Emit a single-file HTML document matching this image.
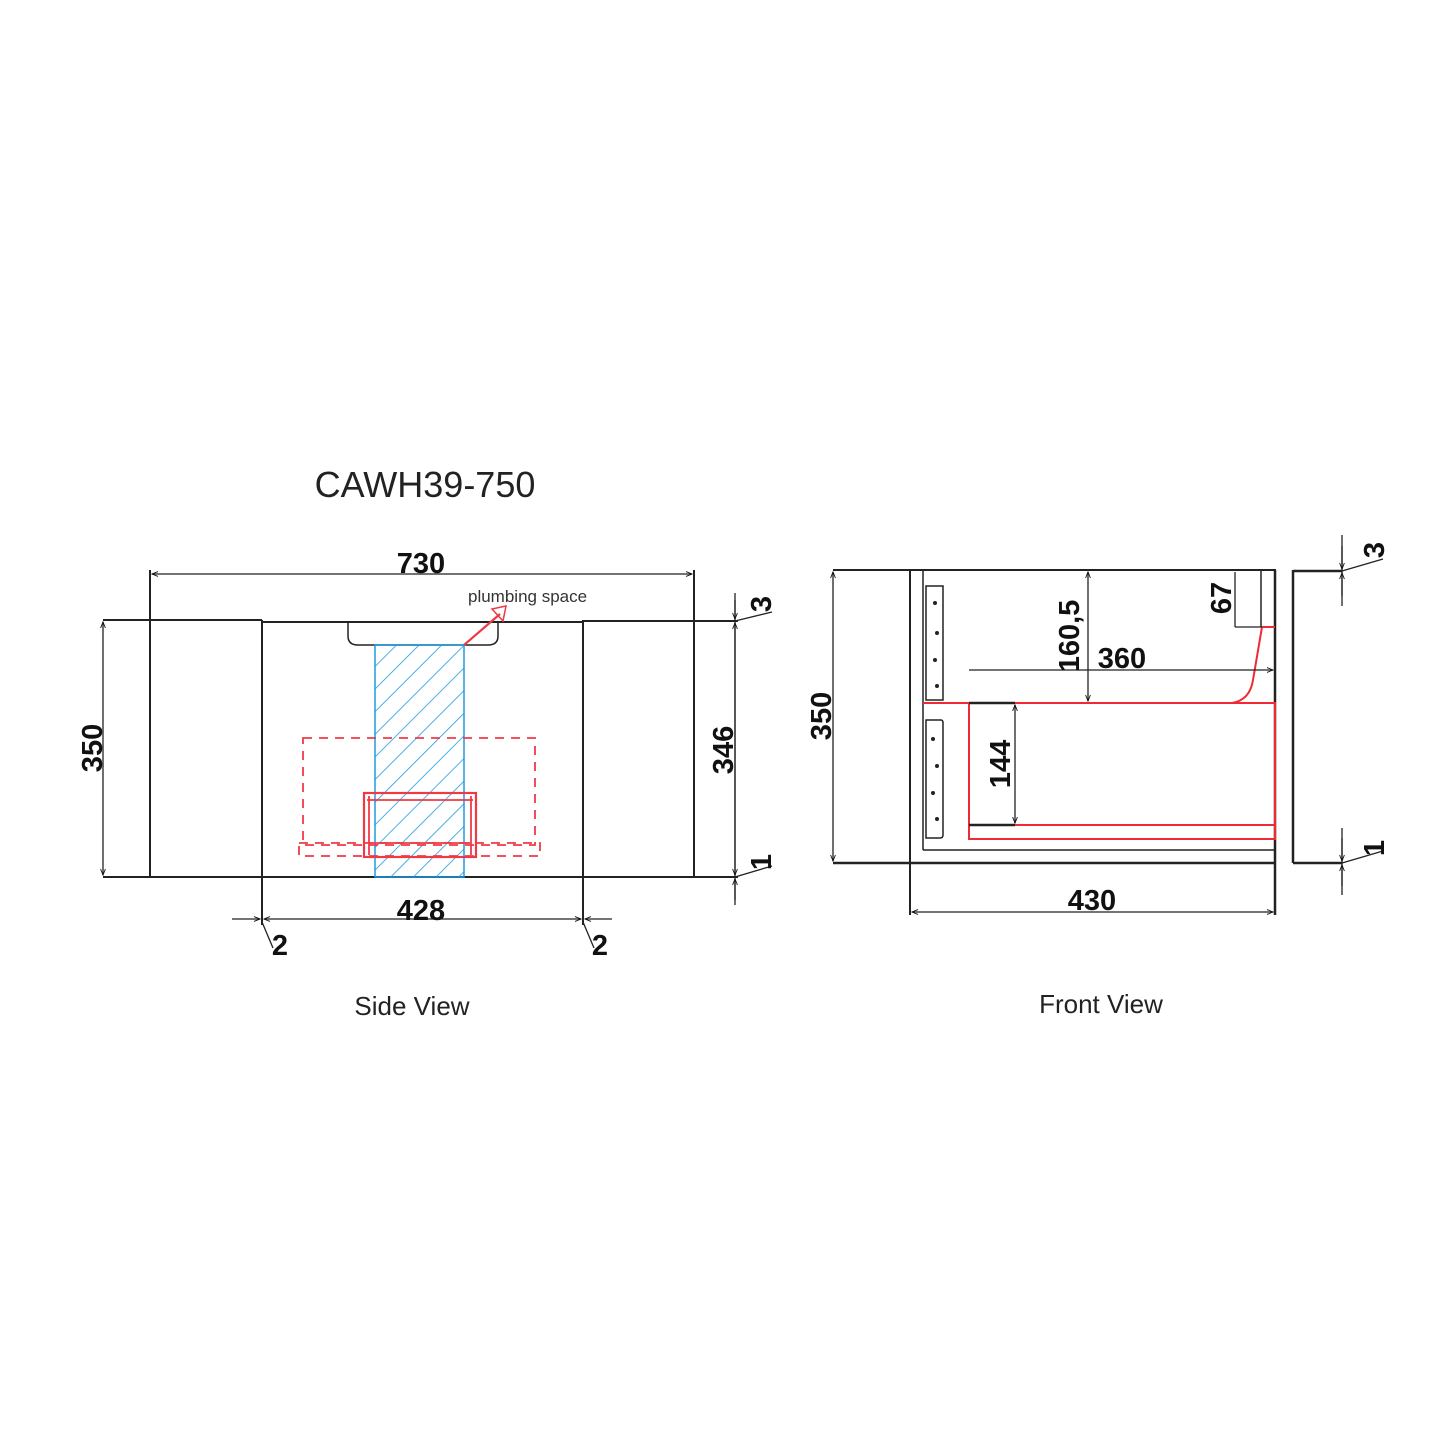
<!DOCTYPE html>
<html><head><meta charset="utf-8"><style>
html,body{margin:0;padding:0;background:#fff}
svg{display:block}
.d{font-family:"Liberation Sans",sans-serif;font-weight:bold;font-size:29px;fill:#111}
</style></head><body>
<svg width="1445" height="1445" viewBox="0 0 1445 1445" xmlns="http://www.w3.org/2000/svg">
<defs>
<pattern id="h" patternUnits="userSpaceOnUse" width="16" height="16" patternTransform="rotate(45)">
<line x1="0" y1="0" x2="0" y2="16" stroke="#1e9be0" stroke-width="1.6"/>
</pattern>
<marker id="a" viewBox="0 0 10 10" refX="10" refY="5" markerWidth="9" markerHeight="6" orient="auto-start-reverse" markerUnits="userSpaceOnUse"><path d="M0,1 L10,5 L0,9" fill="none" stroke="#111" stroke-width="1.5"/></marker>
</defs>
<rect width="1445" height="1445" fill="#fff"/>
<text x="425" y="497" font-family="Liberation Sans,sans-serif" font-size="36" text-anchor="middle" fill="#222">CAWH39-750</text>

<!-- SIDE VIEW -->
<g stroke="#222" fill="none" stroke-width="2">
<line x1="103" y1="620" x2="262" y2="620"/>
<line x1="262" y1="622" x2="583" y2="622"/>
<line x1="583" y1="621" x2="738" y2="621"/>
<line x1="103" y1="877" x2="738" y2="877"/>
<line x1="150" y1="570" x2="150" y2="877"/>
<line x1="262" y1="620" x2="262" y2="925"/>
<line x1="583" y1="620" x2="583" y2="925"/>
<line x1="694" y1="570" x2="694" y2="877"/>
<path d="M348,622 V636 Q348,645 358,645 H488 Q498,645 498,636 V622" stroke-width="1.5"/>
</g>
<g stroke="#222" stroke-width="1.3" fill="none">
<line x1="152" y1="574" x2="692" y2="574" marker-start="url(#a)" marker-end="url(#a)"/>
<line x1="103" y1="622" x2="103" y2="875" marker-start="url(#a)" marker-end="url(#a)"/>
<line x1="735" y1="593" x2="735" y2="905"/>
<line x1="735" y1="623" x2="735" y2="875" marker-start="url(#a)" marker-end="url(#a)"/>
<line x1="735" y1="600" x2="735" y2="619" marker-end="url(#a)"/>
<line x1="735" y1="900" x2="735" y2="879" marker-end="url(#a)"/>
<line x1="735" y1="621" x2="772" y2="612"/>
<line x1="735" y1="877" x2="772" y2="866"/>
<line x1="232" y1="919" x2="260" y2="919" marker-end="url(#a)"/>
<line x1="264" y1="919" x2="581" y2="919" marker-start="url(#a)" marker-end="url(#a)"/>
<line x1="612" y1="919" x2="585" y2="919" marker-end="url(#a)"/>
<line x1="262" y1="922" x2="273" y2="948"/>
<line x1="583" y1="922" x2="594" y2="948"/>
</g>
<rect x="375" y="645" width="89" height="232" fill="url(#h)" stroke="#1e9be0" stroke-width="1.5"/>
<g stroke="#ef3a45" fill="none" stroke-width="1.8">
<rect x="303" y="738" width="232" height="107" stroke-dasharray="9,7"/>
<rect x="299" y="843" width="241" height="13" stroke-dasharray="9,7"/>
<rect x="364" y="793" width="112" height="64" stroke-width="2.2"/>
<line x1="367" y1="800" x2="473" y2="800"/>
<line x1="370" y1="843" x2="470" y2="843"/>
<line x1="369" y1="796" x2="369" y2="855"/>
<line x1="471" y1="796" x2="471" y2="855"/>
<line x1="464" y1="645" x2="500" y2="614" stroke-width="2.2"/>
<path d="M492,609 L506,606 L503,621 Z" stroke-width="1.5"/>
</g>
<text x="468" y="602" font-family="Liberation Sans,sans-serif" font-size="17" fill="#333">plumbing space</text>
<text class="d" x="421" y="573" text-anchor="middle">730</text>
<text class="d" x="421" y="920" text-anchor="middle">428</text>
<text class="d" x="280" y="955" text-anchor="middle">2</text>
<text class="d" x="600" y="955" text-anchor="middle">2</text>
<text class="d" transform="translate(102,748) rotate(-90)" text-anchor="middle">350</text>
<text class="d" transform="translate(733,750) rotate(-90)" text-anchor="middle">346</text>
<text class="d" transform="translate(771,604) rotate(-90)" text-anchor="middle">3</text>
<text class="d" transform="translate(771,862) rotate(-90)" text-anchor="middle">1</text>
<text x="412" y="1015" font-family="Liberation Sans,sans-serif" font-size="26" text-anchor="middle" fill="#222">Side View</text>

<!-- FRONT VIEW -->
<g stroke="#222" fill="none" stroke-width="2">
<line x1="833" y1="570" x2="1276" y2="570"/>
<line x1="833" y1="863" x2="1276" y2="863" stroke-width="2.5"/>
<line x1="910" y1="570" x2="910" y2="915"/>
<line x1="923" y1="570" x2="923" y2="850" stroke-width="1.5"/>
<line x1="923" y1="850" x2="1276" y2="850" stroke-width="1.5"/>
<line x1="1261" y1="570" x2="1261" y2="627" stroke-width="1.5"/>
<line x1="1275" y1="570" x2="1275" y2="915" stroke-width="2.5"/>
<line x1="1293" y1="570" x2="1293" y2="863" stroke-width="2.5"/>
<line x1="1293" y1="571" x2="1342" y2="571" stroke-width="2.5"/>
<line x1="1293" y1="863" x2="1342" y2="863" stroke-width="2.5"/>
<path d="M926,586 H943 V700 H926 Z" stroke-width="1.5"/>
<path d="M926,720 H941 Q943,720 943,723 V835 Q943,838 940,838 H926 Z" stroke-width="1.5"/>
</g>
<g fill="#222">
<circle cx="935" cy="603" r="2"/><circle cx="937" cy="633" r="2"/><circle cx="935" cy="660" r="2"/><circle cx="937" cy="686" r="2"/>
<circle cx="933" cy="739" r="2"/><circle cx="937" cy="766" r="2"/><circle cx="933" cy="793" r="2"/><circle cx="937" cy="819" r="2"/>
</g>
<g stroke="#ef2a35" fill="none" stroke-width="2">
<line x1="923" y1="703" x2="1232" y2="703"/>
<rect x="969" y="703" width="306" height="136"/>
<line x1="969" y1="825" x2="1275" y2="825"/>
<path d="M1232,703 Q1250,700 1253,680 L1262,627 H1275"/>
</g>
<g stroke="#222" stroke-width="1.3" fill="none">
<line x1="833" y1="572" x2="833" y2="861" marker-start="url(#a)" marker-end="url(#a)"/>
<line x1="912" y1="912" x2="1273" y2="912" marker-start="url(#a)" marker-end="url(#a)"/>
<line x1="1088" y1="572" x2="1088" y2="701" marker-start="url(#a)" marker-end="url(#a)"/>
<line x1="969" y1="670" x2="1273" y2="670" marker-end="url(#a)"/>
<line x1="1235" y1="572" x2="1235" y2="627"/>
<line x1="1235" y1="627" x2="1262" y2="627"/>
<line x1="1015" y1="705" x2="1015" y2="823" marker-start="url(#a)" marker-end="url(#a)"/>
<line x1="969" y1="703" x2="1015" y2="703" stroke-width="2.5"/>
<line x1="969" y1="825" x2="1015" y2="825" stroke-width="2.5"/>
<line x1="1342" y1="535" x2="1342" y2="606"/>
<line x1="1342" y1="546" x2="1342" y2="569" marker-end="url(#a)"/>
<line x1="1342" y1="596" x2="1342" y2="573" marker-end="url(#a)"/>
<line x1="1342" y1="571" x2="1383" y2="559"/>
<line x1="1342" y1="828" x2="1342" y2="895"/>
<line x1="1342" y1="838" x2="1342" y2="861" marker-end="url(#a)"/>
<line x1="1342" y1="886" x2="1342" y2="865" marker-end="url(#a)"/>
<line x1="1342" y1="863" x2="1383" y2="851"/>
</g>
<text class="d" x="1092" y="910" text-anchor="middle">430</text>
<text class="d" x="1122" y="668" text-anchor="middle">360</text>
<text class="d" transform="translate(1079,636) rotate(-90)" text-anchor="middle">160,5</text>
<text class="d" transform="translate(1231,598) rotate(-90)" text-anchor="middle">67</text>
<text class="d" transform="translate(1010,764) rotate(-90)" text-anchor="middle">144</text>
<text class="d" transform="translate(831,716) rotate(-90)" text-anchor="middle">350</text>
<text class="d" transform="translate(1384,550) rotate(-90)" text-anchor="middle">3</text>
<text class="d" transform="translate(1384,848) rotate(-90)" text-anchor="middle">1</text>
<text x="1101" y="1013" font-family="Liberation Sans,sans-serif" font-size="26" text-anchor="middle" fill="#222">Front View</text>
</svg>
</body></html>
